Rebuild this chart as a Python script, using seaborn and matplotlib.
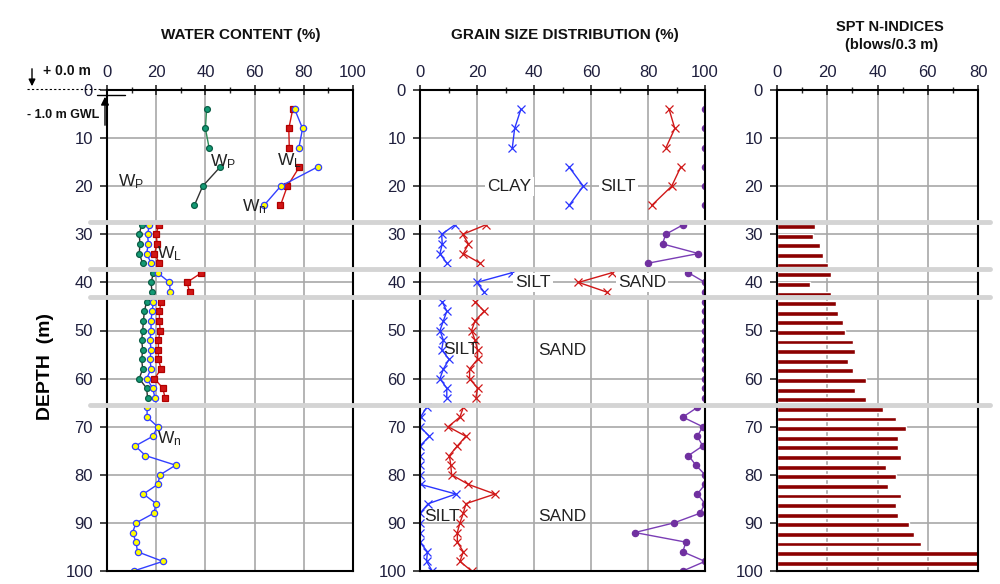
import matplotlib
matplotlib.use("Agg")
import matplotlib.pyplot as plt
import matplotlib.transforms as mtransforms
from matplotlib.lines import Line2D
from matplotlib.patches import FancyArrowPatch
import numpy as np
import pandas as pd
import seaborn as sns

# ---- water content (%) ----
wc_depth = [4, 8, 12, 16, 20, 24, 28, 30, 32, 34, 36, 38, 40, 42,
            44, 46, 48, 50, 52, 54, 56, 58, 60, 62, 64]
wp_value = [40.5, 40.0, 41.5, 46.0, 38.9, 35.5, 14.1, 13.1, 13.4, 13.1, 14.5, 18.9, 17.9, 18.3,
            16.1, 15.2, 14.8, 14.5, 14.1, 14.5, 14.1, 14.5, 13.1, 16.1, 16.5]
wl_value = [75.5, 73.9, 74.1, 78.2, 73.3, 70.5, 21.0, 20.0, 20.4, 19.3, 21.3, 38.4, 32.5, 33.6,
            22.0, 21.3, 21.3, 21.6, 20.9, 20.9, 20.9, 22.0, 19.3, 22.7, 23.6]
wn_depth = wc_depth + [66, 68, 70, 72, 74, 76, 78, 80, 82, 84, 86, 88, 90, 92, 94, 96, 98, 100]
wn_value = [76.3, 79.5, 78.0, 85.6, 70.6, 63.8, 17.2, 16.5, 16.8, 16.1, 17.9, 20.6, 25.4, 25.7,
            18.9, 18.3, 17.9, 17.9, 17.5, 17.9, 17.5, 17.9, 16.1, 18.6, 19.5,
            16.3, 16.3, 20.6, 18.6, 11.5, 15.6, 27.9, 21.6, 20.6, 14.8, 20.0, 19.0,
            11.8, 10.4, 11.8, 12.4, 22.7, 10.8]

# ---- grain size distribution (%) ----
gs_depth = wn_depth
clay_value = [35.4, 33.2, 32.4, 52.3, 57.3, 52.3, 12.3, 7.6, 7.8, 7.0, 9.4, 32.2, 19.9, 22.5,
              7.8, 9.4, 8.2, 7.0, 8.2, 7.6, 10.2, 8.2, 7.0, 9.4, 9.4,
              2.3, 0.2, 0.0, 3.3, 0.0, 0.0, 0.0, 0.0, 0.2, 12.6, 2.9, 0.0,
              0.0, 0.0, 0.0, 2.6, 2.3, 4.3]
silt_value = [87.4, 89.4, 86.3, 91.5, 88.3, 81.3, 23.2, 15.0, 17.0, 15.2, 21.1, 67.3, 55.6, 65.5,
              19.3, 22.5, 19.3, 18.1, 19.3, 20.2, 20.2, 17.4, 17.4, 20.2, 19.6,
              15.2, 14.0, 9.9, 16.1, 13.1, 10.3, 10.8, 11.1, 17.0, 26.3, 16.1, 15.2,
              14.0, 13.1, 13.1, 15.2, 14.0, 18.1]
sand_value = [100, 100, 100, 100, 100, 100, 92.4, 86.2, 85.1, 97.7, 80.1, 94.2, 100, 100,
              100, 100, 100, 100, 100, 100, 100, 100, 100, 100, 100,
              97.3, 92.2, 99.2, 97.3, 99.2, 94.2, 96.8, 100, 100, 97.3, 100, 98.2,
              89.1, 75.4, 93.3, 92.2, 100, 92.2]

# ---- SPT N ----
spt_depth = [28.4, 30.4, 32.4, 34.4, 36.4, 38.4, 40.4, 42.4, 44.4, 46.4, 48.4, 50.4, 52.4,
             54.4, 56.4, 58.4, 60.4, 62.4, 64.4, 66.4, 68.4, 70.4, 72.4, 74.4, 76.4, 78.4,
             80.4, 82.4, 84.4, 86.4, 88.4, 90.4, 92.4, 94.4, 96.4, 98.4, 100.4]
spt_n = [15.3, 14.3, 17.3, 18.3, 20.3, 21.3, 13.1, 21.3, 23.3, 24.4, 26.2, 27.1, 30.2,
         31.1, 28.2, 30.2, 35.3, 31.1, 35.3, 42.1, 47.4, 51.3, 48.3, 48.3, 49.3, 43.3,
         47.4, 44.3, 49.3, 47.4, 48.3, 52.4, 54.4, 57.4, 80, 80, 80]

# layer boundaries (m) drawn across the figure, plus a break between samples at 14 m
layer_lines = [27.4, 37.3, 43.0, 65.4]
segment_bins = [0, 14] + layer_lines + [101]

TXT = "#1f1f3d"

sns.set_style("white")
plt.rcParams["font.family"] = ["Liberation Sans", "DejaVu Sans"]
plt.rcParams["mathtext.default"] = "regular"


def segmented(depth, value):
    df = pd.DataFrame({"depth": depth, "value": value})
    df["seg"] = pd.cut(df["depth"], segment_bins, labels=False)
    return df


def draw(ax, df, color, marker, mfc, mec, ms, lw=1.0):
    sns.lineplot(data=df, x="value", y="depth", units="seg", estimator=None, sort=False,
                 orient="y", color=color, lw=lw, marker=marker, markerfacecolor=mfc,
                 markeredgecolor=mec, markersize=ms, markeredgewidth=0.9, ax=ax)


def style_axis(ax, xmax):
    ax.set_xlim(0, xmax)
    ax.set_ylim(100, 0)
    ax.xaxis.tick_top()
    ax.set_xticks(np.arange(0, xmax + 1, 20))
    ax.set_xticks(np.arange(0, xmax + 1, 10), minor=True)
    ax.set_yticks(np.arange(0, 101, 10))
    ax.grid(True, which="major", color="#a8a8a8", lw=1.2)
    ax.tick_params(axis="x", which="major", direction="inout", length=7, width=1.2,
                   pad=4, labelsize=12, labelcolor=TXT)
    ax.tick_params(axis="x", which="minor", direction="inout", length=4, width=1.0)
    ax.tick_params(axis="y", direction="out", length=5, width=1.2, pad=5,
                   labelsize=12, labelcolor=TXT, left=True)
    ax.set_xlabel("")
    ax.set_ylabel("")
    for sp in ax.spines.values():
        sp.set_color("black")
        sp.set_linewidth(1.5)


fig = plt.figure(figsize=(10, 5.84), dpi=100)
bottom, height = 13 / 584, 481 / 584
ax1 = fig.add_axes([0.107, bottom, 0.246, height])
ax2 = fig.add_axes([0.420, bottom, 0.285, height])
ax3 = fig.add_axes([0.777, bottom, 0.201, height])

# water content
wp = segmented(wc_depth, wp_value)
draw(ax1, wp[wp["seg"] == 0], "#2e8b57", "o", "#139a74", "#0b5e46", 4.2)
draw(ax1, wp[wp["seg"] > 0], "#333333", "o", "#139a74", "#0b5e46", 4.2)
draw(ax1, segmented(wc_depth, wl_value), "#d11515", "s", "#d11515", "#b00000", 4.2)
draw(ax1, segmented(wn_depth, wn_value), "#3340ff", "o", "#ffff00", "#3340ff", 4.5)
style_axis(ax1, 100)

# grain size
draw(ax2, segmented(gs_depth, clay_value), "#2a35ff", "x", "#2a35ff", "#2a35ff", 5.5)
draw(ax2, segmented(gs_depth, silt_value), "#d01818", "x", "#d01818", "#d01818", 5.5)
draw(ax2, segmented(gs_depth, sand_value), "#7a3db5", "o", "#7030a0", "#7030a0", 4.5)
style_axis(ax2, 100)

# SPT
sns.barplot(x=spt_n, y=spt_depth, orient="y", native_scale=True, color="#8b0000",
            saturation=1, width=0.5, errorbar=None, ax=ax3)
style_axis(ax3, 80)

# labels inside panels
lab = dict(fontsize=12.5, color="#222222", va="center")
ax1.text(42, 14.8, "W$_P$", **lab)
ax1.text(69, 14.7, "W$_L$", **lab)
ax1.text(4.5, 19.1, "W$_P$", **lab)
ax1.text(55, 24.3, "W$_n$", **lab)
ax1.text(20.5, 34.0, "W$_L$", **lab)
ax1.text(20.5, 72.4, "W$_n$", **lab)

box = dict(facecolor="white", edgecolor="none", pad=1.5)
gl = dict(fontsize=12.5, color="#222222", ha="center", va="center")
ax2.text(31.4, 20, "CLAY", bbox=box, **gl)
ax2.text(69.6, 20, "SILT", bbox=box, **gl)
ax2.text(39.6, 40, "SILT", bbox=box, **gl)
ax2.text(77.9, 40, "SAND", bbox=box, **gl)
ax2.text(14.4, 54.0, "SILT", **gl)
ax2.text(49.8, 54.2, "SAND", **gl)
ax2.text(7.7, 88.7, "SILT", **gl)
ax2.text(49.8, 88.7, "SAND", **gl)

# layer boundary lines across the whole figure
trans = mtransforms.blended_transform_factory(fig.transFigure, ax1.transData)
for d in layer_lines:
    fig.add_artist(Line2D([0.09, 0.99], [d, d], transform=trans, color="#d4d4d4",
                          lw=3.5, zorder=5))


def fp(x, y):
    return x / 1000, 1 - y / 584


# titles
fig.text(*fp(241, 35), "WATER CONTENT (%)", fontsize=11, fontweight="bold",
         ha="center", va="center", color="#111111")
fig.text(*fp(565, 35), "GRAIN SIZE DISTRIBUTION (%)", fontsize=11, fontweight="bold",
         ha="center", va="center", color="#111111")
fig.text(*fp(890, 27), "SPT N-INDICES", fontsize=10.5, fontweight="bold",
         ha="center", va="center", color="#111111")
fig.text(*fp(892, 45), "(blows/0.3 m)", fontsize=10.5, fontweight="bold",
         ha="center", va="center", color="#111111")
fig.text(*fp(45, 367), "DEPTH  (m)", fontsize=14, fontweight="bold", rotation=90,
         ha="center", va="center", color="black")

# ground level / ground water level marks
fig.text(*fp(67, 71), "+ 0.0 m", fontsize=10, fontweight="bold", ha="center",
         va="center", color="#111111")
fig.text(*fp(63, 115), "- 1.0 m GWL", fontsize=9, fontweight="bold", ha="center",
         va="center", color="#111111")
fig.add_artist(FancyArrowPatch(fp(32, 66), fp(32, 89), transform=fig.transFigure,
                               arrowstyle="-|>", mutation_scale=10, color="black", lw=1))
fig.add_artist(Line2D([fp(27, 89)[0], fp(100, 89)[0]], [fp(27, 89)[1]] * 2,
                      transform=fig.transFigure, color="black", lw=0.8, ls=(0, (2, 2))))
fig.add_artist(FancyArrowPatch(fp(105, 128), fp(105, 94), transform=fig.transFigure,
                               arrowstyle="-|>", mutation_scale=12, color="black", lw=1))
fig.add_artist(Line2D([fp(97, 95)[0], fp(125, 95)[0]], [fp(97, 95)[1]] * 2,
                      transform=fig.transFigure, color="black", lw=1.0))

fig.savefig("out.png", dpi=100)
